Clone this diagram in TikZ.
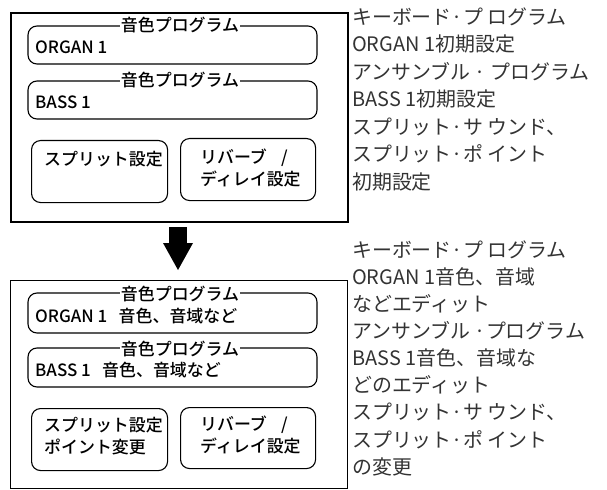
\documentclass[tikz,border=0pt]{standalone}
\usepackage{fontspec}
\setmainfont{Noto Sans CJK JP}
\newfontfamily\jpb{Noto Sans CJK JP Medium}
\begin{document}
\begin{tikzpicture}[x=1bp,y=-1bp,
  inbox/.style={draw,line width=1.1bp,rounded corners=9bp},
  tag/.style={fill=white,inner sep=1bp,font=\jpb\fontsize{17}{17}\selectfont},
  val/.style={anchor=west,inner sep=0,font=\jpb\fontsize{17}{17}\selectfont},
  btxt/.style={align=left,inner sep=0,font=\jpb\fontsize{17}{22}\selectfont},
  side/.style={anchor=west,inner sep=0,text=black!80,font=\fontsize{20}{27}\selectfont}]
\useasboundingbox (0,0) rectangle (607,490);
% top
\node[draw,line width=2bp,minimum width=337bp,minimum height=209bp,anchor=north west] (top) at (10,12) {};
\draw[inbox] (28,26) rectangle (317,64);
\node[tag] (t1) at (180,25) {音色プログラム};
\node[val] (v1) at (35,47) {ORGAN 1};
\draw[inbox] (28,81) rectangle (317,119);
\node[tag] (t2) at (180,80) {音色プログラム};
\node[val] (v2) at (35,102) {BASS 1};
\node[inbox,minimum width=136bp,minimum height=62bp,anchor=north west] (s1) at (31,140) {};
\node[btxt,anchor=north west] (s1t) at (44,151) {スプリット設定};
\node[inbox,minimum width=135bp,minimum height=62bp,anchor=north west] (r1) at (180,138) {};
\node[btxt,anchor=north west] (r1t) at (200,149) {リバーブ\ \ \ \,/\\ディレイ設定};
% arrow
\coordinate (a0) at (178,227);
\coordinate (a1) at (178,270);
\fill (a0)++(-9,0) rectangle ++(18,17);
\fill (163,243) -- (193,243) -- (a1) -- cycle;
% bottom
\node[draw,line width=0.9bp,minimum width=337bp,minimum height=208bp,anchor=north west] (bot) at (10,280) {};
\draw[inbox] (28,293) rectangle (317,333);
\node[tag] (t3) at (180,294) {音色プログラム};
\node[val] (v3) at (35,316) {ORGAN 1\ \ \ 音色、音域など};
\draw[inbox] (28,348) rectangle (317,387);
\node[tag] (t4) at (180,349) {音色プログラム};
\node[val] (v4) at (35,370) {BASS 1\ \ \ 音色、音域など};
\node[inbox,minimum width=136bp,minimum height=62bp,anchor=north west] (s2) at (31,408) {};
\node[btxt,anchor=north west] (s2t) at (44,417) {スプリット設定\\ポイント変更};
\node[inbox,minimum width=135bp,minimum height=61bp,anchor=north west] (r2) at (180,407) {};
\node[btxt,anchor=north west] (r2t) at (200,416) {リバーブ\ \ \ \,/\\ディレイ設定};
% side texts
\node[side] (p1) at (352,17) {キーボード·プ ログラム};
\node[side] (p2) at (352,44) {ORGAN 1初期設定};
\node[side] (p3) at (352,72) {アンサンブル · プログラム};
\node[side] (p4) at (352,99) {BASS 1初期設定};
\node[side] (p5) at (352,127) {スプリット·サ ウンド、};
\node[side] (p6) at (352,154) {スプリット·ポ イント};
\node[side] (p7) at (352,182) {初期設定};
\node[side] (q1) at (352,250) {キーボード·プ ログラム};
\node[side] (q2) at (352,277) {ORGAN 1音色、音域};
\node[side] (q3) at (352,304) {などエディット};
\node[side] (q4) at (352,331) {アンサンブル ·プログラム};
\node[side] (q5) at (352,358) {BASS 1音色、音域な};
\node[side] (q6) at (352,385) {どのエディット};
\node[side] (q7) at (352,412) {スプリット·サ ウンド、};
\node[side] (q8) at (352,440) {スプリット·ポ イント};
\node[side] (q9) at (352,467) {の変更};
\end{tikzpicture}
\end{document}
